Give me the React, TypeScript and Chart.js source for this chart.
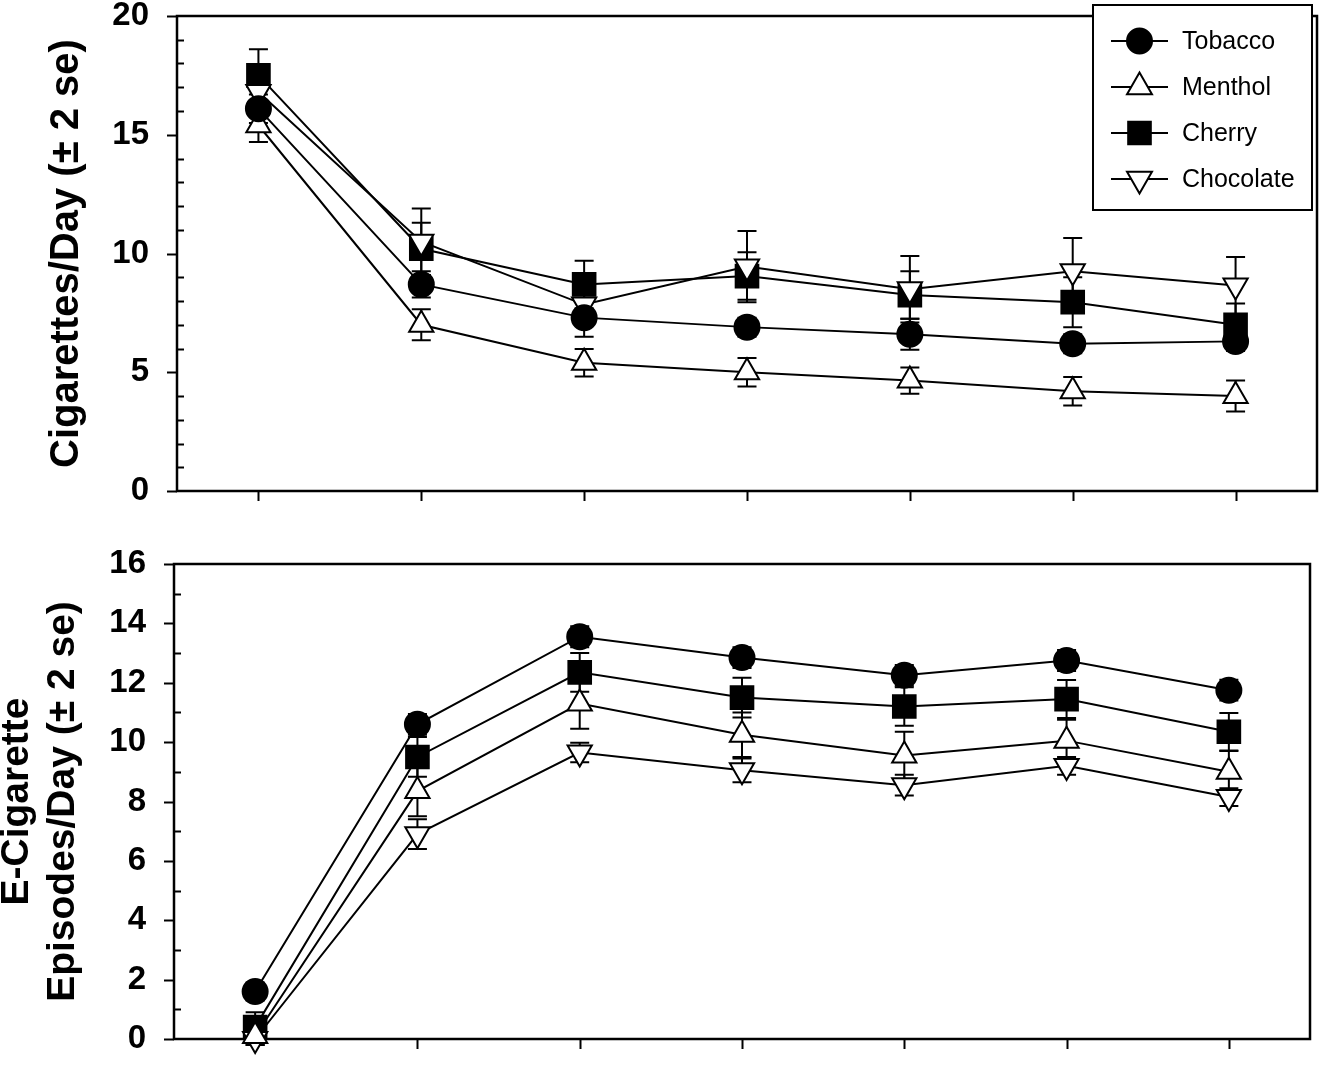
import React, { useEffect, useRef } from 'react';
import { Chart, registerables } from 'chart.js';

Chart.register(...registerables);

const FONT = '"Liberation Sans", Arial, Helvetica, sans-serif';

// ---------- data ----------
const TIMEPOINTS = ['1', '2', '3', '4', '5', '6', '7'];
const FLAVORS = ['Tobacco', 'Menthol', 'Cherry', 'Chocolate'];

// Top panel: Cigarettes/Day (mean, and 2*se)
const CIG_TOBACCO = [16.1, 8.7, 7.3, 6.9, 6.6, 6.2, 6.3];
const CIG_MENTHOL = [15.4, 7.0, 5.4, 5.0, 4.65, 4.2, 4.0];
const CIG_CHERRY = [17.5, 10.2, 8.7, 9.05, 8.25, 7.95, 7.0];
const CIG_CHOCOLATE = [16.8, 10.5, 7.85, 9.45, 8.5, 9.25, 8.65];
const CIG_TOBACCO_2SE = [0.6, 0.55, 0.8, 0.4, 0.65, 0.4, 0.4];
const CIG_MENTHOL_2SE = [0.7, 0.65, 0.58, 0.6, 0.55, 0.6, 0.65];
const CIG_CHERRY_2SE = [1.1, 1.1, 1.0, 1.0, 1.0, 1.05, 0.9];
const CIG_CHOCOLATE_2SE = [0.8, 1.4, 0.8, 1.5, 1.4, 1.4, 1.2];

// Bottom panel: E-Cigarette Episodes/Day (mean, and 2*se)
const ECIG_TOBACCO = [1.6, 10.6, 13.55, 12.85, 12.25, 12.75, 11.75];
const ECIG_MENTHOL = [0.1, 8.35, 11.3, 10.25, 9.55, 10.05, 9.0];
const ECIG_CHERRY = [0.4, 9.5, 12.35, 11.5, 11.2, 11.45, 10.35];
const ECIG_CHOCOLATE = [0.0, 6.9, 9.65, 9.05, 8.55, 9.2, 8.15];
const ECIG_TOBACCO_2SE = [0.3, 0.35, 0.35, 0.35, 0.35, 0.35, 0.35];
const ECIG_MENTHOL_2SE = [0.3, 0.85, 0.85, 0.75, 0.8, 0.7, 0.7];
const ECIG_CHERRY_2SE = [0.5, 0.67, 0.65, 0.67, 0.65, 0.64, 0.63];
const ECIG_CHOCOLATE_2SE = [0.2, 0.5, 0.33, 0.4, 0.35, 0.3, 0.3];

const CIG_TICKS = { min: 0, max: 20, major: 5, minor: 1 };
const ECIG_TICKS = { min: 0, max: 16, major: 2, minor: 1 };

// ---------- styles ----------
const MARKERS = [
  { pointStyle: 'circle', fill: '#000', radius: 12.5, rotation: 0, order: 0 },
  { pointStyle: 'triangle', fill: '#fff', radius: 14, rotation: 0, order: 1 },
  { pointStyle: 'rect', fill: '#000', radius: 16, rotation: 0, order: 3 },
  { pointStyle: 'triangle', fill: '#fff', radius: 14, rotation: 180, order: 2 },
];

function drawMarker(ctx: CanvasRenderingContext2D, style: string, x: number, y: number, r: number, fill: string, rotation: number) {
  ctx.beginPath();
  if (style === 'circle') {
    ctx.arc(x, y, r, 0, Math.PI * 2);
  } else if (style === 'rect') {
    const s = Math.SQRT1_2 * r;
    ctx.rect(x - s, y - s, 2 * s, 2 * s);
  } else {
    let rad = (rotation * Math.PI) / 180;
    ctx.moveTo(x + Math.sin(rad) * r, y - Math.cos(rad) * r);
    rad += (2 * Math.PI) / 3;
    ctx.lineTo(x + Math.sin(rad) * r, y - Math.cos(rad) * r);
    rad += (2 * Math.PI) / 3;
    ctx.lineTo(x + Math.sin(rad) * r, y - Math.cos(rad) * r);
  }
  ctx.closePath();
  ctx.fillStyle = fill;
  ctx.fill();
  ctx.lineWidth = 2;
  ctx.strokeStyle = '#000';
  ctx.stroke();
}

const decorPlugin = {
  id: 'panelDecor',
  beforeDatasetsDraw(chart: any, _args: any, opts: any) {
    const { ctx, chartArea: a, scales } = chart;
    const xs = scales.x;
    const ys = scales.y;
    ctx.save();
    ctx.strokeStyle = '#000';
    ctx.lineWidth = 2.5;
    ctx.strokeRect(a.left, a.top, a.right - a.left, a.bottom - a.top);

    ctx.lineWidth = 2;
    for (let v = opts.min; v <= opts.max + 1e-9; v += opts.minor) {
      const py = Math.round(ys.getPixelForValue(v)) + 0.5;
      const q = v / opts.major;
      const isMajor = Math.abs(q - Math.round(q)) < 1e-6;
      ctx.beginPath();
      if (isMajor) {
        ctx.moveTo(a.left - 10, py);
        ctx.lineTo(a.left, py);
      } else {
        ctx.moveTo(a.left, py);
        ctx.lineTo(a.left + 7, py);
      }
      ctx.stroke();
    }
    TIMEPOINTS.forEach((_, i) => {
      const px = Math.round(xs.getPixelForValue(i)) + 0.5;
      ctx.beginPath();
      ctx.moveTo(px, a.bottom);
      ctx.lineTo(px, a.bottom + 10);
      ctx.stroke();
    });

    // error bars (mean ± 2 se)
    ctx.lineWidth = 2;
    chart.data.datasets.forEach((ds: any, di: number) => {
      const meta = chart.getDatasetMeta(di);
      ds.errors.forEach((e: number, j: number) => {
        const pt = meta.data[j];
        const v = ds.data[j];
        const y1 = ys.getPixelForValue(v + e);
        const y2 = ys.getPixelForValue(v - e);
        ctx.beginPath();
        ctx.moveTo(pt.x, y1);
        ctx.lineTo(pt.x, y2);
        ctx.moveTo(pt.x - 9.5, y1);
        ctx.lineTo(pt.x + 9.5, y1);
        ctx.moveTo(pt.x - 9.5, y2);
        ctx.lineTo(pt.x + 9.5, y2);
        ctx.stroke();
      });
    });
    ctx.restore();
  },
  afterDraw(chart: any, _args: any, opts: any) {
    if (!opts.legend) return;
    const ctx: CanvasRenderingContext2D = chart.ctx;
    ctx.save();
    const bx = 1093, by = 5, bw = 219, bh = 205;
    ctx.fillStyle = '#fff';
    ctx.fillRect(bx, by, bw, bh);
    ctx.lineWidth = 2;
    ctx.strokeStyle = '#000';
    ctx.strokeRect(bx, by, bw, bh);
    const legendR = [12.5, 14.4, 16, 14.4];
    FLAVORS.forEach((name, i) => {
      const cy = 41 + 46 * i;
      const m = MARKERS[i];
      ctx.beginPath();
      ctx.lineWidth = 2;
      ctx.strokeStyle = '#000';
      ctx.moveTo(1111, cy);
      ctx.lineTo(1168, cy);
      ctx.stroke();
      drawMarker(ctx, m.pointStyle, 1139.5, cy, legendR[i], m.fill, m.rotation);
      ctx.fillStyle = '#000';
      ctx.font = `25px ${FONT}`;
      ctx.textBaseline = 'middle';
      ctx.textAlign = 'left';
      ctx.fillText(name, 1182, cy + 1);
    });
    ctx.restore();
  },
};

function makeDatasets(values: number[][], errors: number[][]) {
  return values.map((vals, i) => {
    const m = MARKERS[i];
    return {
      label: FLAVORS[i],
      data: vals,
      errors: errors[i],
      order: m.order,
      borderColor: '#000',
      borderWidth: 2,
      pointStyle: m.pointStyle,
      pointRadius: m.radius,
      pointHoverRadius: m.radius,
      pointRotation: m.rotation,
      pointBackgroundColor: m.fill,
      pointBorderColor: '#000',
      pointBorderWidth: 2,
      tension: 0,
      fill: false,
      clip: false,
    };
  });
}

function makeConfig(p: {
  values: number[][];
  errors: number[][];
  ticks: { min: number; max: number; major: number; minor: number };
  title: string | string[];
  titleSize: number;
  titleLineHeight: number;
  titlePad: number;
  axisWidth: number;
  padding: { top: number; right: number; bottom: number };
  legend: boolean;
}): any {
  const zeroPad = (s: any) => {
    s.paddingTop = 0;
    s.paddingBottom = 0;
    s.paddingLeft = 0;
    s.paddingRight = 0;
  };
  return {
    type: 'line',
    data: { labels: TIMEPOINTS, datasets: makeDatasets(p.values, p.errors) },
    plugins: [decorPlugin],
    options: {
      animation: false,
      responsive: false,
      maintainAspectRatio: false,
      events: [],
      layout: {
        autoPadding: false,
        padding: { left: 0, top: p.padding.top, right: p.padding.right, bottom: p.padding.bottom },
      },
      plugins: {
        legend: { display: false },
        tooltip: { enabled: false },
        panelDecor: { ...p.ticks, legend: p.legend },
      },
      scales: {
        x: {
          type: 'category',
          offset: true,
          grid: { display: false },
          border: { display: false },
          ticks: { display: false },
          afterFit: (s: any) => {
            s.height = 0;
            zeroPad(s);
          },
        },
        y: {
          min: p.ticks.min,
          max: p.ticks.max,
          grid: { display: false, drawTicks: false },
          border: { display: false },
          ticks: {
            stepSize: p.ticks.major,
            padding: 28,
            color: '#000',
            font: { family: FONT, size: 33, weight: 'bold' },
          },
          title: {
            display: true,
            text: p.title,
            color: '#000',
            font: { family: FONT, size: p.titleSize, weight: 'bold', lineHeight: p.titleLineHeight },
            padding: { top: p.titlePad, bottom: 0 },
          },
          afterFit: (s: any) => {
            s.width = p.axisWidth;
            zeroPad(s);
          },
        },
      },
    },
  };
}

function Panel({ top, height, config }: { top: number; height: number; config: () => any }) {
  const ref = useRef<HTMLCanvasElement>(null);
  useEffect(() => {
    const chart = new Chart(ref.current as HTMLCanvasElement, config());
    return () => chart.destroy();
  }, []);
  return (
    <div style={{ position: 'absolute', left: 0, top, width: 1323, height }}>
      <canvas ref={ref} width={1323} height={height} style={{ display: 'block', width: 1323, height }} />
    </div>
  );
}

export default function App() {
  return (
    <div style={{ position: 'absolute', left: 0, top: 0, width: 1323, height: 1071, background: '#fff', overflow: 'hidden' }}>
      <Panel
        top={0}
        height={530}
        config={() =>
          makeConfig({
            values: [CIG_TOBACCO, CIG_MENTHOL, CIG_CHERRY, CIG_CHOCOLATE],
            errors: [CIG_TOBACCO_2SE, CIG_MENTHOL_2SE, CIG_CHERRY_2SE, CIG_CHOCOLATE_2SE],
            ticks: CIG_TICKS,
            title: 'Cigarettes/Day (± 2 se)',
            titleSize: 40,
            titleLineHeight: 1.2,
            titlePad: 43,
            axisWidth: 177,
            padding: { top: 16, right: 6, bottom: 39 },
            legend: true,
          })
        }
      />
      <Panel
        top={530}
        height={541}
        config={() =>
          makeConfig({
            values: [ECIG_TOBACCO, ECIG_MENTHOL, ECIG_CHERRY, ECIG_CHOCOLATE],
            errors: [ECIG_TOBACCO_2SE, ECIG_MENTHOL_2SE, ECIG_CHERRY_2SE, ECIG_CHOCOLATE_2SE],
            ticks: ECIG_TICKS,
            title: ['E-Cigarette', 'Episodes/Day (± 2 se)'],
            titleSize: 39,
            titleLineHeight: 1.19,
            titlePad: -6,
            axisWidth: 174,
            padding: { top: 34, right: 13, bottom: 32 },
            legend: false,
          })
        }
      />
    </div>
  );
}
